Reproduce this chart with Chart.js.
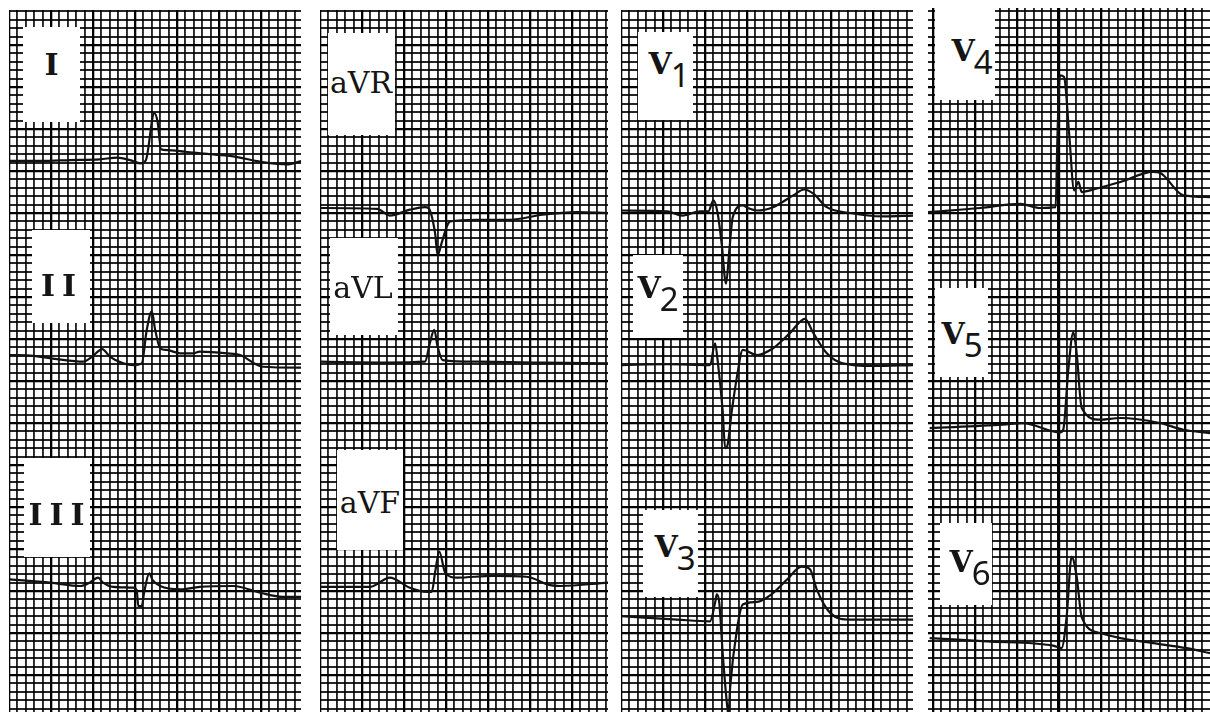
<!DOCTYPE html>
<html>
<head>
<meta charset="utf-8">
<title>12-lead ECG</title>
<script src="https://cdn.jsdelivr.net/npm/chart.js@4.4.1/dist/chart.umd.min.js"></script>
<style>
  body { margin: 0; background: #fff; width: 1210px; height: 715px; position: relative; overflow: hidden; }
  canvas { position: absolute; }
  .box { position: absolute; background: #fff; z-index: 2; }
  .box span { position: absolute; transform: translate(-50%, -50%); white-space: nowrap; color: #151515;
              font-family: "DejaVu Serif", serif; font-size: 30px; line-height: 1; }
  .box .roman { letter-spacing: 7px; font-weight: bold; }
  .box .v { font-weight: bold; }
  .box .d { font-family: "Noto Sans", "DejaVu Sans", sans-serif; font-size: 33px; position: relative; top: 13px; margin-left: -1px; }
</style>
</head>
<body>

<div class="box" style="left:23px;top:27px;width:57px;height:95px"><span class="roman" style="left:32px;top:38px">I</span></div>
<div class="box" style="left:32px;top:230px;width:58px;height:93px"><span class="roman" style="left:30px;top:56px">II</span></div>
<div class="box" style="left:24px;top:458px;width:66px;height:99px"><span class="roman" style="left:36px;top:57px">III</span></div>

<div class="box" style="left:328px;top:33px;width:67px;height:102px"><span style="left:33px;top:50px">aVR</span></div>
<div class="box" style="left:330px;top:238px;width:68px;height:97px"><span style="left:33px;top:50px">aVL</span></div>
<div class="box" style="left:337px;top:450px;width:66px;height:100px"><span style="left:33px;top:53px">aVF</span></div>

<div class="box" style="left:638px;top:32px;width:55px;height:88px"><span style="left:31px;top:30px"><b class="v">V</b><span class="d" style="position:relative;transform:none">1</span></span></div>
<div class="box" style="left:633px;top:255px;width:50px;height:83px"><span style="left:25px;top:31px"><b class="v">V</b><span class="d" style="position:relative;transform:none">2</span></span></div>
<div class="box" style="left:643px;top:510px;width:55px;height:87px"><span style="left:32px;top:35px"><b class="v">V</b><span class="d" style="position:relative;transform:none">3</span></span></div>

<div class="box" style="left:935px;top:7px;width:60px;height:93px"><span style="left:37px;top:42px"><b class="v">V</b><span class="d" style="position:relative;transform:none">4</span></span></div>
<div class="box" style="left:935px;top:288px;width:53px;height:89px"><span style="left:27px;top:44px"><b class="v">V</b><span class="d" style="position:relative;transform:none">5</span></span></div>
<div class="box" style="left:940px;top:523px;width:52px;height:82px"><span style="left:30px;top:37px"><b class="v">V</b><span class="d" style="position:relative;transform:none">6</span></span></div>

<script>
// time in mm (small squares) from the left edge of each strip, amplitude in mm above the lead's baseline
const leadI_time = [0.1, 3.7, 7.3, 10.8, 12.9, 14.4, 15.7, 16.3, 17.3, 17.7, 18.1, 18.8, 21.0, 23.9, 26.3, 30.6, 33.1, 34.8];
const leadI_amp  = [0.0, 0.0, 0.1, 0.2, 0.4, 0.1, -0.3, 0.1, 5.7, 4.6, 1.4, 1.3, 1.1, 0.8, 0.6, -0.2, -0.4, 0.0];

const leadII_time = [0.1, 2.9, 5.7, 8.8, 9.9, 11.1, 12.0, 13.6, 14.8, 15.8, 16.4, 17.0, 17.4, 18.0, 18.8, 20.4, 21.9, 22.7, 26.0, 27.5, 30.2, 34.3, 34.8];
const leadII_amp  = [0.0, -0.1, -0.5, -0.8, -0.2, 0.7, -0.2, -1.0, -1.2, -1.0, 3.0, 5.2, 3.0, 0.8, 0.6, 0.2, 0.2, 0.4, 0.2, 0.0, -1.4, -1.5, -1.5];

const leadIII_time = [0.1, 4.9, 8.5, 9.6, 10.6, 11.2, 12.4, 14.8, 15.2, 15.4, 15.8, 16.1, 16.7, 17.1, 18.0, 20.4, 22.7, 26.7, 29.9, 32.6, 34.8];
const leadIII_amp  = [0.8, 0.4, 0.0, 0.4, 1.0, 0.4, -0.1, -0.2, -0.5, -2.4, -2.4, -0.7, 1.5, 0.7, 0.0, -0.4, -0.1, 0.0, -0.8, -1.3, -1.3];

const aVR_time = [0.0, 6.8, 8.3, 10.7, 12.5, 12.9, 13.7, 14.0, 14.5, 15.1, 15.5, 18.7, 22.6, 26.5, 30.6, 34.3];
const aVR_amp  = [0.1, 0.0, -0.8, -0.1, 0.2, 0.1, -2.9, -5.5, -4.0, -2.1, -1.5, -1.3, -1.3, -0.7, -0.4, -0.5];

const aVL_time = [0.0, 8.0, 12.5, 13.1, 13.6, 14.0, 14.6, 18.7, 26.5, 34.3];
const aVL_amp  = [0.0, -0.1, 0.0, 2.3, 3.8, 1.8, 0.2, 0.0, -0.1, -0.2];

const aVF_time = [0.0, 6.0, 8.3, 10.7, 12.7, 13.3, 13.7, 14.2, 14.9, 16.3, 20.6, 24.6, 27.4, 28.6, 34.3];
const aVF_amp  = [0.0, 0.0, 1.1, -0.1, -0.6, -0.6, 1.7, 4.2, 1.7, 1.1, 1.3, 1.2, 0.2, 0.1, 0.5];

const V1_time = [0.1, 5.5, 7.3, 9.4, 10.4, 11.0, 11.5, 12.0, 12.5, 12.9, 13.3, 14.5, 15.1, 16.2, 18.1, 20.5, 21.8, 22.9, 24.5, 27.3, 31.2, 34.8];
const V1_amp  = [0.1, 0.0, -0.5, 0.0, 0.0, 1.3, -0.2, -4.0, -8.6, -4.6, -0.7, 0.7, 0.4, 0.1, 0.5, 1.9, 2.6, 2.1, 0.5, -0.2, -0.6, -0.5];

const V2_time = [0.1, 5.5, 10.6, 11.2, 11.5, 12.1, 12.4, 12.6, 13.2, 13.8, 14.5, 16.2, 18.1, 20.1, 21.9, 22.9, 24.5, 26.4, 30.0, 34.8];
const V2_amp  = [0.0, 0.1, 0.0, 2.6, 0.6, -5.4, -9.9, -9.8, -5.4, -1.4, 1.8, 1.2, 2.0, 3.8, 5.5, 3.8, 1.4, 0.2, -0.1, 0.0];

const V3_time = [0.1, 6.7, 10.6, 11.2, 11.4, 11.7, 12.1, 12.6, 12.8, 13.0, 13.8, 14.5, 16.2, 17.9, 19.8, 21.5, 22.5, 23.3, 24.9, 27.3, 34.8];
const V3_amp  = [0.4, 0.0, -0.2, 2.0, 3.0, 2.0, -3.9, -9.9, -11.4, -8.0, -1.2, 1.8, 2.1, 3.0, 4.8, 6.3, 6.0, 3.6, 0.8, 0.0, 0.0];

const V4_time = [0.0, 6.2, 11.0, 13.3, 15.2, 15.4, 15.7, 16.2, 16.8, 17.4, 17.9, 18.3, 19.3, 22.9, 26.8, 27.6, 30.4, 33.6];
const V4_amp  = [-0.5, 0.0, 0.5, 0.0, 0.1, 8.1, 15.8, 15.6, 8.9, 2.1, 3.1, 1.9, 2.1, 3.1, 4.3, 4.2, 1.5, 1.3];

const V5_time = [0.2, 8.9, 11.3, 15.7, 16.1, 16.7, 17.3, 17.7, 18.3, 20.5, 22.9, 27.6, 30.4, 33.6];
const V5_amp  = [0.0, 0.4, 0.6, -0.5, -0.2, 6.9, 11.4, 8.9, 2.4, 1.0, 1.2, 0.6, -0.2, -0.6];

const V6_time = [0.2, 7.0, 14.9, 15.9, 16.5, 17.1, 17.7, 18.3, 20.5, 22.9, 26.8, 30.8, 33.6];
const V6_amp  = [0.8, 0.4, -0.1, -0.4, 3.3, 10.5, 8.1, 3.3, 1.4, 0.8, 0.2, -0.4, -1.0];

const MM = 8.4; // pixels per small square

// strips: placement on the page, baseline of each lead (mm above strip bottom), grid phase
const strips = [
  { left: 9, top: 10, width: 292, height: 702, xOffset: 0, stitch: -1,
    leads: [[leadI_time, leadI_amp, 65.6], [leadII_time, leadII_amp, 42.5], [leadIII_time, leadIII_amp, 15.0]] },
  { left: 320, top: 10, width: 288, height: 702, xOffset: 0, stitch: -1,
    leads: [[aVR_time, aVR_amp, 59.9], [aVL_time, aVL_amp, 41.7], [aVF_time, aVF_amp, 14.9]] },
  { left: 621, top: 10, width: 292, height: 702, xOffset: 0, stitch: -1,
    leads: [[V1_time, V1_amp, 59.6], [V2_time, V2_amp, 41.3], [V3_time, V3_amp, 11.0]] },
  { left: 928, top: 8, width: 282, height: 704, xOffset: 0.6, stitch: 15,
    leads: [[V4_time, V4_amp, 60.0], [V5_time, V5_amp, 33.8], [V6_time, V6_amp, 8.0]] },
];

function gridTicks(offset, max, phase, stitch) {
  const ticks = [];
  for (let k = 0; offset + k <= max + 1e-6; k++) {
    ticks.push({ value: offset + k, heavy: (k - phase) % 5 === 0, stitch: k === stitch });
  }
  return ticks;
}

function gridStyle() {
  return {
    drawTicks: false,
    color: c => (c.tick && (c.tick.heavy || c.tick.stitch)) ? '#000' : 'rgba(0,0,0,0.85)',
    lineWidth: c => !c.tick ? 1.9 : c.tick.stitch ? 3.2 : c.tick.heavy ? 2.3 : 1.9,
  };
}

strips.forEach(s => {
  const canvas = document.createElement('canvas');
  canvas.width = s.width;
  canvas.height = s.height;
  canvas.style.left = s.left + 'px';
  canvas.style.top = s.top + 'px';
  document.body.appendChild(canvas);

  const datasets = s.leads.map(([time, amp, level]) => ({
    data: time.map((t, i) => ({ x: t, y: level + amp[i] })),
    borderColor: '#111',
    borderWidth: 2.2,
    pointRadius: 0,
    fill: false,
    cubicInterpolationMode: 'monotone',
  }));

  new Chart(canvas.getContext('2d'), {
    type: 'line',
    data: { datasets },
    options: {
      responsive: false,
      animation: false,
      devicePixelRatio: 1,
      events: [],
      layout: { padding: 0 },
      plugins: { legend: { display: false }, tooltip: { enabled: false } },
      scales: {
        x: {
          type: 'linear', min: 0, max: s.width / MM,
          afterBuildTicks: axis => { axis.ticks = gridTicks(s.xOffset, axis.max, 0, s.stitch); },
          ticks: { display: false },
          grid: gridStyle(),
          border: { display: false },
        },
        y: {
          type: 'linear', min: 0, max: s.height / MM,
          afterBuildTicks: axis => { axis.ticks = gridTicks(0.4, axis.max, 4, -1); },
          ticks: { display: false },
          grid: gridStyle(),
          border: { display: false },
        },
      },
    },
  });
});
</script>
</body>
</html>
